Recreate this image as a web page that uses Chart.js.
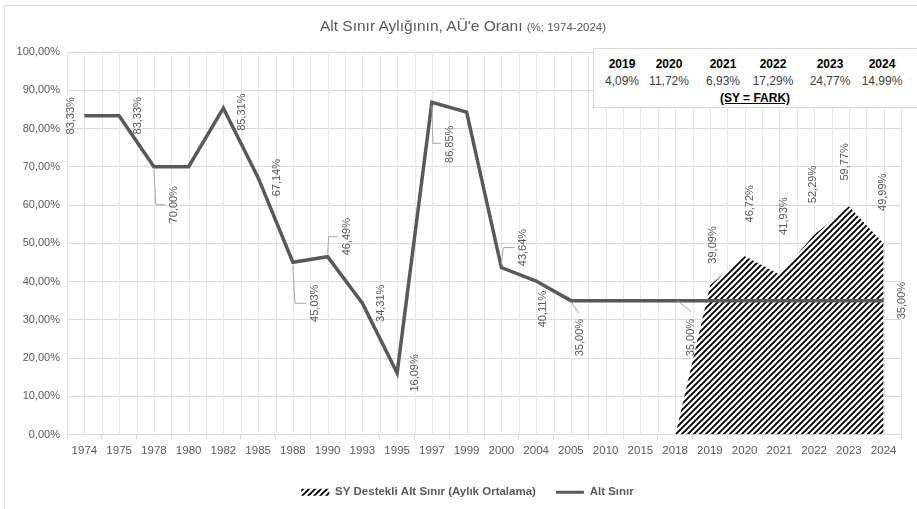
<!DOCTYPE html>
<html lang="tr">
<head>
    <meta charset="UTF-8">
    <title>Alt Sınır Aylığının, AÜ'e Oranı</title>
    <script src="https://cdn.jsdelivr.net/npm/chart.js"></script>
    <style>
        body {
            margin: 0;
            background-color: #fff;
            font-family: "Liberation Sans", Arial, sans-serif;
        }
        #wrap {
            position: relative;
            width: 917px;
            height: 509px;
            overflow: hidden;
        }
        #frame {
            position: absolute;
            left: 4px;
            top: 5px;
            width: 940px;
            height: 530px;
            border: 1px solid #d9d9d9;
        }
        canvas {
            position: absolute;
            left: 0;
            top: 0;
        }
        #title {
            position: absolute;
            left: 0;
            top: 17px;
            width: 926px;
            text-align: center;
            font-size: 15.5px;
            color: #595959;
        }
        #title small {
            font-size: 11.5px;
        }
        #farkBox {
            position: absolute;
            left: 593px;
            top: 48px;
            width: 330px;
            height: 58px;
            background-color: #fff;
            border: 1px solid #d9d9d9;
            font-size: 12px;
        }
        #farkBox span {
            position: absolute;
            transform: translateX(-50%);
            white-space: nowrap;
        }
        .yil {
            font-weight: bold;
            color: #000;
        }
        .fark {
            color: #404040;
        }
        .not {
            font-weight: bold;
            text-decoration: underline;
            color: #000;
        }
    </style>
</head>
<body>
    <div id="wrap">
        <div id="frame"></div>
        <canvas id="altSinirChart" width="917" height="509"></canvas>
        <div id="title">Alt Sınır Aylığının, AÜ'e Oranı <small>(%; 1974-2024)</small></div>
        <div id="farkBox"></div>
    </div>

    <script>
        // veriler
        const yillar = ['1974', '1975', '1978', '1980', '1982', '1985', '1988', '1990', '1993', '1995', '1997', '1999',
            '2000', '2004', '2005', '2010', '2015', '2018', '2019', '2020', '2021', '2022', '2023', '2024'];
        const altSinir = [83.33, 83.33, 70.00, 70.00, 85.31, 67.14, 45.03, 46.49, 34.31, 16.09, 86.85, 84.30,
            43.64, 40.11, 35.00, 35.00, 35.00, 35.00, 35.00, 35.00, 35.00, 35.00, 35.00, 35.00];
        const syDestekli = [null, null, null, null, null, null, null, null, null, null, null, null,
            null, null, null, null, null, 0, 39.09, 46.72, 41.93, 52.29, 59.77, 49.99];
        const farkYillar = ['2019', '2020', '2021', '2022', '2023', '2024'];
        const farkDegerler = ['4,09%', '11,72%', '6,93%', '17,29%', '24,77%', '14,99%'];

        // etiket yerleri (piksel kaydırma)
        const altSinirEtiket = {
            0: { dx: -13, dy: 0 },
            1: { dx: 19, dy: 0 },
            2: { dx: 20, dy: 38, leader: [[0, 3], [2, 38], [11, 38]] },
            4: { dx: 19, dy: 4 },
            5: { dx: 19, dy: 0 },
            6: { dx: 22, dy: 41, leader: [[0, 3], [2, 41], [13, 41]] },
            7: { dx: 19, dy: -20, leader: [[0, -3], [1, -20], [10, -20]] },
            8: { dx: 19, dy: 0 },
            9: { dx: 18, dy: 0 },
            10: { dx: 18, dy: 42, leader: [[0, 3], [1, 41], [9, 41]] },
            12: { dx: 22, dy: -20, leader: [[0, -3], [2, -20], [13, -20]] },
            13: { dx: 7, dy: 28 },
            14: { dx: 9, dy: 37, leader: [[1, 2], [8, 13]] },
            17: { dx: 16, dy: 37, leader: [[2, 0], [16, 11]] },
            23: { dx: 18, dy: 0 }
        };
        const syEtiket = {
            18: { dx: 3, dy: -40 },
            19: { dx: 5, dy: -52 },
            20: { dx: 5, dy: -58 },
            21: { dx: -1, dy: -50 },
            22: { dx: -4, dy: -44 },
            23: { dx: -1, dy: -51 }
        };

        const farkKolon = [622, 669, 723, 773, 830, 882];

        // fark kutusu
        const farkBox = document.getElementById('farkBox');
        farkYillar.forEach((y, i) => {
            const s1 = document.createElement('span');
            s1.className = 'yil';
            s1.textContent = y;
            s1.style.left = (farkKolon[i] - 594) + 'px';
            s1.style.top = '8px';
            farkBox.appendChild(s1);
            const s2 = document.createElement('span');
            s2.className = 'fark';
            s2.textContent = farkDegerler[i];
            s2.style.left = (farkKolon[i] - 594) + 'px';
            s2.style.top = '25px';
            farkBox.appendChild(s2);
        });
        const not = document.createElement('span');
        not.className = 'not';
        not.textContent = '(SY = FARK)';
        not.style.left = (755 - 594) + 'px';
        not.style.top = '42px';
        farkBox.appendChild(not);

        const yuzde = v => v.toFixed(2).replace('.', ',') + '%';

        // tarama deseni
        function taramaDeseni() {
            const n = 6;
            const c = document.createElement('canvas');
            c.width = n;
            c.height = n;
            const g = c.getContext('2d');
            g.fillStyle = '#fff';
            g.fillRect(0, 0, n, n);
            g.strokeStyle = '#000';
            g.lineWidth = 1.9;
            g.beginPath();
            g.moveTo(-1, n + 1);
            g.lineTo(n + 1, -1);
            g.moveTo(-1, 1);
            g.lineTo(1, -1);
            g.moveTo(n - 1, n + 1);
            g.lineTo(n + 1, n - 1);
            g.stroke();
            return g.createPattern(c, 'repeat');
        }
        const desen = taramaDeseni();

        const dikeyIzgara = {
            id: 'dikeyIzgara',
            beforeDatasetsDraw(chart) {
                const { ctx, chartArea } = chart;
                const n = yillar.length * 2;
                const step = (chartArea.right - chartArea.left) / n;
                ctx.save();
                ctx.strokeStyle = '#e6e6e6';
                ctx.lineWidth = 1;
                ctx.beginPath();
                for (let i = 0; i <= n; i++) {
                    const x = Math.round(chartArea.left + i * step) + 0.5;
                    ctx.moveTo(x, chartArea.top);
                    ctx.lineTo(x, chartArea.bottom);
                }
                ctx.stroke();
                ctx.restore();
            }
        };

        // lejandı biraz sağa kaydır
        const lejantKaydir = {
            id: 'lejantKaydir',
            afterLayout(chart) {
                chart.legend.left += 30;
            }
        };

        const etiketler = {
            id: 'etiketler',
            afterDatasetsDraw(chart) {
                const ctx = chart.ctx;
                ctx.save();
                ctx.font = '11px "Liberation Sans", Arial, sans-serif';
                ctx.fillStyle = '#595959';
                ctx.textAlign = 'center';
                ctx.textBaseline = 'middle';
                [[0, syDestekli, syEtiket], [1, altSinir, altSinirEtiket]].forEach(([ds, veri, yer]) => {
                    const meta = chart.getDatasetMeta(ds);
                    Object.keys(yer).forEach(k => {
                        const i = +k;
                        const p = meta.data[i];
                        const e = yer[k];
                        if (e.leader) {
                            ctx.strokeStyle = '#a6a6a6';
                            ctx.lineWidth = 1;
                            ctx.beginPath();
                            e.leader.forEach(([lx, ly], j) => {
                                if (j === 0) ctx.moveTo(p.x + lx, p.y + ly);
                                else ctx.lineTo(p.x + lx, p.y + ly);
                            });
                            ctx.stroke();
                        }
                        ctx.save();
                        ctx.translate(p.x + e.dx, p.y + e.dy);
                        ctx.rotate(-Math.PI / 2);
                        ctx.fillText(yuzde(veri[i]), 0, 0);
                        ctx.restore();
                    });
                });
                ctx.restore();
            }
        };

        const ctx = document.getElementById('altSinirChart').getContext('2d');
        const altSinirChart = new Chart(ctx, {
            type: 'line',
            data: {
                labels: yillar,
                datasets: [
                    {
                        label: 'SY Destekli Alt Sınır (Aylık Ortalama)',
                        data: syDestekli,
                        backgroundColor: desen,
                        borderColor: 'rgba(255,255,255,0.7)',
                        borderWidth: 1,
                        fill: 'origin',
                        tension: 0,
                        pointRadius: 0,
                        order: 2
                    },
                    {
                        label: 'Alt Sınır',
                        data: altSinir,
                        borderColor: '#595959',
                        borderWidth: 3.5,
                        fill: false,
                        tension: 0,
                        pointRadius: 0,
                        order: 1
                    }
                ]
            },
            options: {
                responsive: false,
                animation: false,
                devicePixelRatio: 1,
                layout: {
                    padding: { left: 4, right: 16, top: 52, bottom: 1 }
                },
                scales: {
                    x: {
                        offset: true,
                        grid: {
                            offset: true,
                            drawOnChartArea: false,
                            drawTicks: true,
                            tickLength: 5,
                            color: '#d9d9d9'
                        },
                        border: { color: '#d9d9d9' },
                        ticks: {
                            autoSkip: false,
                            maxRotation: 0,
                            padding: 4,
                            color: '#595959',
                            font: { family: '"Liberation Sans", Arial, sans-serif', size: 11.5 }
                        },
                        afterFit: s => { s.height = 32; }
                    },
                    y: {
                        min: 0,
                        max: 100,
                        grid: { color: '#d9d9d9', drawTicks: false },
                        border: { display: false },
                        ticks: {
                            stepSize: 10,
                            padding: 7,
                            color: '#595959',
                            font: { family: '"Liberation Sans", Arial, sans-serif', size: 11 },
                            callback: v => yuzde(v)
                        },
                        afterFit: s => { s.width = 63; }
                    }
                },
                plugins: {
                    tooltip: { enabled: false },
                    legend: {
                        position: 'bottom',
                        labels: {
                            usePointStyle: true,
                            pointStyleWidth: 28,
                            boxHeight: 7,
                            padding: 20,
                            color: '#595959',
                            font: { family: '"Liberation Sans", Arial, sans-serif', size: 11.5, weight: 'bold' },
                            generateLabels: chart => [
                                {
                                    text: chart.data.datasets[0].label,
                                    fillStyle: desen,
                                    strokeStyle: desen,
                                    lineWidth: 0,
                                    pointStyle: 'rect',
                                    fontColor: '#595959',
                                    datasetIndex: 0
                                },
                                {
                                    text: chart.data.datasets[1].label,
                                    fillStyle: '#595959',
                                    strokeStyle: '#595959',
                                    lineWidth: 3,
                                    pointStyle: 'line',
                                    fontColor: '#595959',
                                    datasetIndex: 1
                                }
                            ]
                        }
                    }
                }
            },
            plugins: [dikeyIzgara, lejantKaydir, etiketler]
        });
    </script>
</body>
</html>
